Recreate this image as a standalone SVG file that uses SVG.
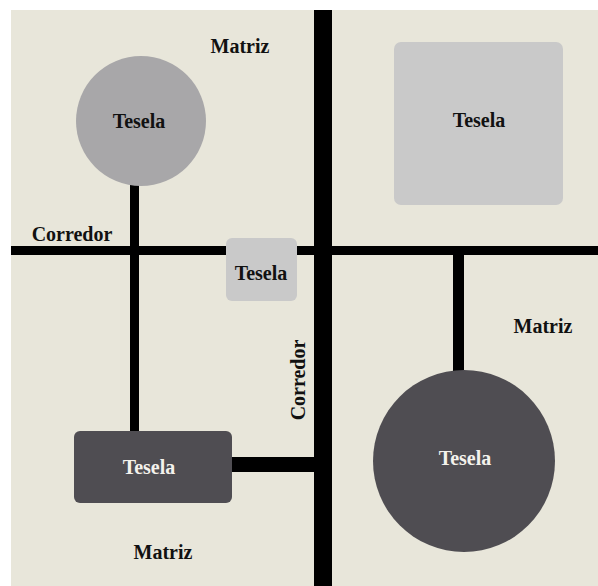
<svg xmlns="http://www.w3.org/2000/svg" width="598" height="586" viewBox="0 0 598 586">
<style>
.t{font-family:"Liberation Serif","Times New Roman",serif;font-weight:bold;font-size:20px;text-anchor:middle}
.dk{fill:#111}
.lt{fill:#f4f2ec}
.bar{fill:#000}
</style>
<rect width="598" height="586" fill="#ffffff"/>
<rect x="11" y="10" width="587" height="576" fill="#e8e6da"/>
<g id="connectors">
<rect class="bar" x="11" y="246" width="587" height="9"/>
<rect class="bar" x="314" y="10" width="18" height="576"/>
<rect class="bar" x="130" y="180" width="9" height="255"/>
<rect class="bar" x="453" y="255" width="11" height="120"/>
<rect class="bar" x="228" y="457" width="88" height="15"/>
</g>
<g id="tesela-circle-top">
<circle cx="141" cy="121" r="65" fill="#a8a7a9"/>
<text class="t dk" x="139" y="128">Tesela</text>
</g>
<g id="tesela-square">
<rect x="394" y="42" width="169" height="163" rx="7" fill="#c9c9c9"/>
<text class="t dk" x="479" y="127">Tesela</text>
</g>
<g id="tesela-small">
<rect x="226" y="238" width="71" height="63" rx="6" fill="#c9c9c9"/>
<text class="t dk" x="261" y="280">Tesela</text>
</g>
<g id="tesela-box-dark">
<rect x="74" y="431" width="158" height="72" rx="6" fill="#4f4d52"/>
<text class="t lt" x="149" y="474">Tesela</text>
</g>
<g id="tesela-circle-dark">
<circle cx="464" cy="461" r="91" fill="#4f4d52"/>
<text class="t lt" x="465" y="465">Tesela</text>
</g>
<g id="labels">
<text class="t dk" x="240" y="53">Matriz</text>
<text class="t dk" x="543" y="333">Matriz</text>
<text class="t dk" x="163" y="559">Matriz</text>
<text class="t dk" x="72" y="241">Corredor</text>
<text class="t dk" transform="translate(305 380) rotate(-90)">Corredor</text>
</g>
</svg>
